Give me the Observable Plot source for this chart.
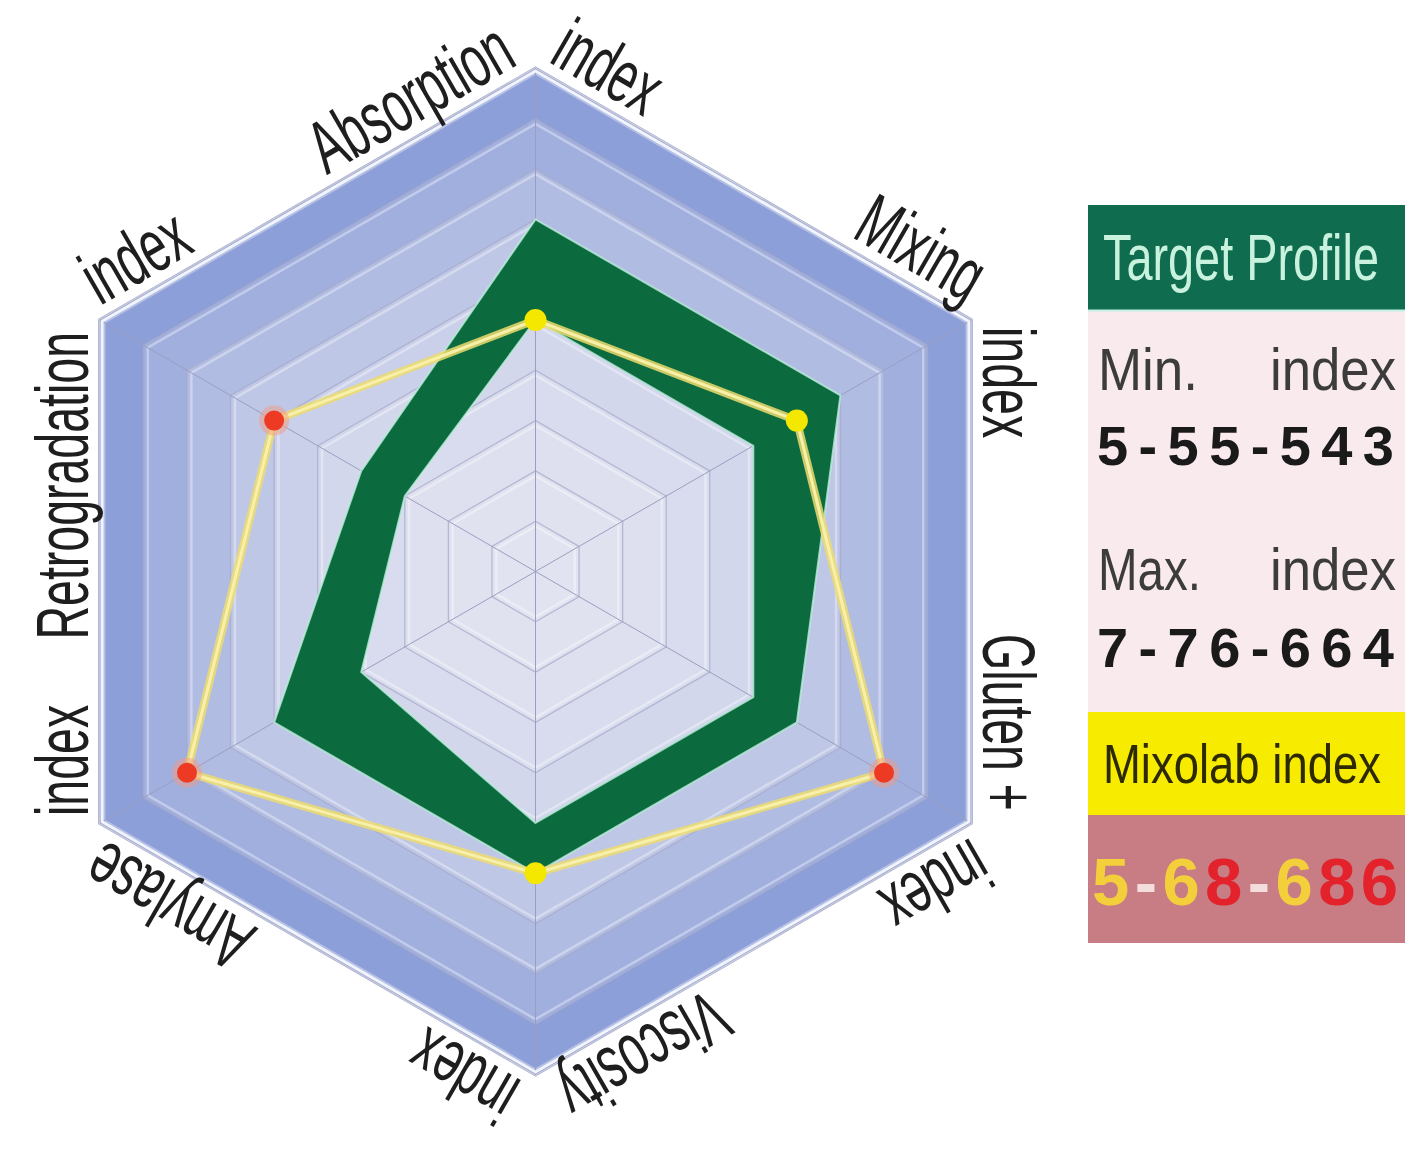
<!DOCTYPE html>
<html><head><meta charset="utf-8">
<script src="https://cdn.jsdelivr.net/npm/d3@7"></script>
<script src="https://cdn.jsdelivr.net/npm/@observablehq/plot@0.6"></script>
<style>
body{margin:0;background:#fff;}
#wrap{position:relative;width:1417px;height:1152px;overflow:hidden;background:#fff;}
#chart{position:absolute;left:0;top:0;}
#legend{position:absolute;left:0;top:0;pointer-events:none;}
</style></head><body>
<div id="wrap"><div id="chart"></div><svg id="legend" width="1417" height="1152"></svg></div>
<script>
// ---- data ----
const axes = ["Absorption", "Mixing", "Gluten +", "Viscosity", "Amylase", "Retrogradation"];
const indexWord = "index";
const minIndex = [5, 5, 5, 5, 4, 3];
const maxIndex = [7, 7, 6, 6, 6, 4];
const mixolabIndex = [5, 6, 8, 6, 8, 6];
const gridLevels = [1, 2, 3, 4, 5, 6, 7, 8, 9, 10];
const scaleMax = 10;
const legendTitles = ["Target Profile", "Min.", "Max.", "Mixolab index"];

// ---- geometry helpers ----
const W = 1080, H = 1152, cx = 535, cy = 571, Rpx = 503;
const u = Rpx / scaleMax;
const n = axes.length;
const ang = i => Math.PI / 2 - i * 2 * Math.PI / n;
const pt = (v, i) => ({x: v * Math.cos(ang(i)), y: v * Math.sin(ang(i))});
const poly = vals => { const p = vals.map((v, i) => pt(v, i)); p.push({...p[0]}); return p; };
const ring = k => poly(axes.map(() => k));

const ringColor = k => d3.interpolateRgb("#e2e3f0", "#8d9fd8")(Math.pow(k / scaleMax, 2.5));

// target band (outer max polygon with min polygon as a hole)
const outerP = poly(maxIndex);
const innerP = poly(minIndex).reverse();
const band = [...outerP, ...innerP];

const mixPts = mixolabIndex.map((v, i) => ({...pt(v, i), out: v < minIndex[i] || v > maxIndex[i]}));

// labels along hexagon edges
const offPx = 12;
const startLabels = [], endLabels = [];
for (let i = 0; i < n; i++) {
  const j = (i + 1) % n;
  const A = pt(scaleMax, i), B = pt(scaleMax, j);
  const len = Math.hypot(B.x - A.x, B.y - A.y);
  const d = {x: (B.x - A.x) / len, y: (B.y - A.y) / len};
  const nr = {x: -d.y, y: d.x};
  const rot = Math.atan2(-d.y, d.x) * 180 / Math.PI;
  const off = offPx / u;
  const insA = 7 / u, insB = 12 / u;
  startLabels.push({x: A.x + d.x * insA + nr.x * off, y: A.y + d.y * insA + nr.y * off, text: indexWord, rotate: rot});
  endLabels.push({x: B.x - d.x * insB + nr.x * off, y: B.y - d.y * insB + nr.y * off, text: axes[j], rotate: rot});
}

const marks = [];
// ring fills (outer to inner)
for (const k of [...gridLevels].reverse()) {
  marks.push(Plot.line(ring(k), {x: "x", y: "y", fill: ringColor(k), stroke: "none"}));
}
// ring highlight + lines
for (const k of gridLevels) {
  marks.push(Plot.line(ring(k - 0.1), {x: "x", y: "y", stroke: "#ffffff", strokeOpacity: 0.35, strokeWidth: 2.5}));
  marks.push(Plot.line(ring(k), {x: "x", y: "y", stroke: "#a6aac8", strokeOpacity: 0.75, strokeWidth: 1.3}));
}
// spokes
marks.push(Plot.link(axes.map((a, i) => pt(scaleMax, i)), {x1: () => 0, y1: () => 0, x2: "x", y2: "y", stroke: "#9a9ec0", strokeWidth: 1}));
// outer frame
marks.push(Plot.line(ring(scaleMax - 0.05), {x: "x", y: "y", stroke: "#f2f4fc", strokeWidth: 3}));
marks.push(Plot.line(ring(scaleMax + 0.03), {x: "x", y: "y", stroke: "#b4b8d2", strokeWidth: 1.2}));
// target band
marks.push(Plot.line(band, {x: "x", y: "y", fill: "#0b6a3e", stroke: "none"}));
marks.push(Plot.line(outerP, {x: "x", y: "y", stroke: "#bdeedd", strokeWidth: 2, strokeOpacity: 0.8}));
marks.push(Plot.line(poly(minIndex), {x: "x", y: "y", stroke: "#bdeedd", strokeWidth: 2, strokeOpacity: 0.8}));
// mixolab line
marks.push(Plot.line(poly(mixolabIndex), {x: "x", y: "y", stroke: "#ecdc6e", strokeWidth: 8, strokeOpacity: 0.85, strokeLinejoin: "round"}));
marks.push(Plot.line(poly(mixolabIndex), {x: "x", y: "y", stroke: "#f8f0a8", strokeWidth: 3, strokeLinejoin: "round"}));
// points
marks.push(Plot.dot(mixPts.filter(d => d.out), {x: "x", y: "y", r: 15, fill: "#f49a80", fillOpacity: 0.5, stroke: "none"}));
marks.push(Plot.dot(mixPts.filter(d => d.out), {x: "x", y: "y", r: 10, fill: "#ec3b22", stroke: "none"}));
marks.push(Plot.dot(mixPts.filter(d => !d.out), {x: "x", y: "y", r: 11, fill: "#f5e800", stroke: "none"}));
// labels
marks.push(Plot.text(startLabels, {x: "x", y: "y", text: "text", rotate: "rotate", textAnchor: "start", lineAnchor: "bottom", fontSize: 75, fill: "#1e1e1e"}));
marks.push(Plot.text(endLabels, {x: "x", y: "y", text: "text", rotate: "rotate", textAnchor: "end", lineAnchor: "bottom", fontSize: 75, fill: "#1e1e1e"}));

const chart = Plot.plot({
  width: W, height: H, margin: 0,
  x: {domain: [-cx / u, (W - cx) / u], axis: null},
  y: {domain: [-(H - cy) / u, cy / u], axis: null},
  style: {fontFamily: "'Liberation Sans', Arial, sans-serif", overflow: "visible", background: "transparent"},
  marks
});
d3.select(chart).selectAll('g[aria-label="text"] text').each(function() {
  this.setAttribute("transform", this.getAttribute("transform") + " scale(0.62,1)");
});
document.getElementById("chart").appendChild(chart);

// ---- legend ----
const L = d3.select("#legend");
const bx = 1088, bw = 317;
const fam = "'Liberation Sans', Arial, sans-serif";
const code = a => `${a[0]}-${a[1]}${a[2]}-${a[3]}${a[4]}${a[5]}`;
// condensed text: scaled horizontally to a target width
function ctxt(s, x, y, size, width, opts = {}) {
  const t = L.append("text").attr("x", 0).attr("y", 0).attr("font-family", fam).attr("font-size", size)
    .attr("fill", opts.fill || "#222").attr("font-weight", opts.weight || "normal")
    .attr("text-anchor", opts.anchor || "start").text(s);
  const w = t.node().getComputedTextLength();
  t.attr("transform", `translate(${x},${y}) scale(${width / w},1)`);
  return t;
}
// spaced text: letter-spacing to reach a target width
function stxt(s, x, y, size, width, opts = {}) {
  const t = L.append("text").attr("x", x).attr("y", y).attr("font-family", fam).attr("font-size", size)
    .attr("fill", opts.fill || "#222").attr("font-weight", opts.weight || "normal");
  return t;
}
function spaceIt(t, width, count) {
  const w = t.node().getComputedTextLength();
  t.attr("letter-spacing", ((width - w) / (count - 1)).toFixed(2));
}
L.append("rect").attr("x", bx).attr("y", 205).attr("width", bw).attr("height", 105).attr("fill", "#0f6c4f");
ctxt(legendTitles[0], 1103, 280, 65, 276, {fill: "#c8f2de"});
L.append("rect").attr("x", bx).attr("y", 310).attr("width", bw).attr("height", 402).attr("fill", "#f9ebed");
L.append("line").attr("x1", bx).attr("x2", bx + bw).attr("y1", 310.5).attr("y2", 310.5).attr("stroke", "#c4f0e2").attr("stroke-width", 2);
ctxt(legendTitles[1], 1098, 390, 60, 100, {fill: "#3c3c3c"});
ctxt(indexWord, 1396, 390, 60, 126, {fill: "#3c3c3c", anchor: "end"});
const t1 = stxt("", 1097, 465, 56, 0, {fill: "#1a1a1a", weight: "bold"}).text(code(minIndex));
spaceIt(t1, 297, code(minIndex).length);
ctxt(legendTitles[2], 1098, 590, 60, 103, {fill: "#3c3c3c"});
ctxt(indexWord, 1396, 590, 60, 126, {fill: "#3c3c3c", anchor: "end"});
const t2 = stxt("", 1097, 667, 56, 0, {fill: "#1a1a1a", weight: "bold"}).text(code(maxIndex));
spaceIt(t2, 297, code(maxIndex).length);
L.append("rect").attr("x", bx).attr("y", 712).attr("width", bw).attr("height", 103).attr("fill", "#f7ec00");
ctxt(legendTitles[3], 1103, 783, 56, 278, {fill: "#2e2a00"});
L.append("rect").attr("x", bx).attr("y", 815).attr("width", bw).attr("height", 128).attr("fill", "#c87c83");
const mt = stxt("", 1092, 905, 67, 0, {weight: "bold"});
const mc = code(mixolabIndex);
let di = 0;
for (const ch of mc) {
  if (ch === "-") { mt.append("tspan").attr("fill", "#f3dede").text(ch); continue; }
  const i = di++;
  const out = mixolabIndex[i] < minIndex[i] || mixolabIndex[i] > maxIndex[i];
  mt.append("tspan").attr("fill", out ? "#e3222b" : "#f4cf3c").text(ch);
}
spaceIt(mt, 306, mc.length);
</script>
</body></html>
